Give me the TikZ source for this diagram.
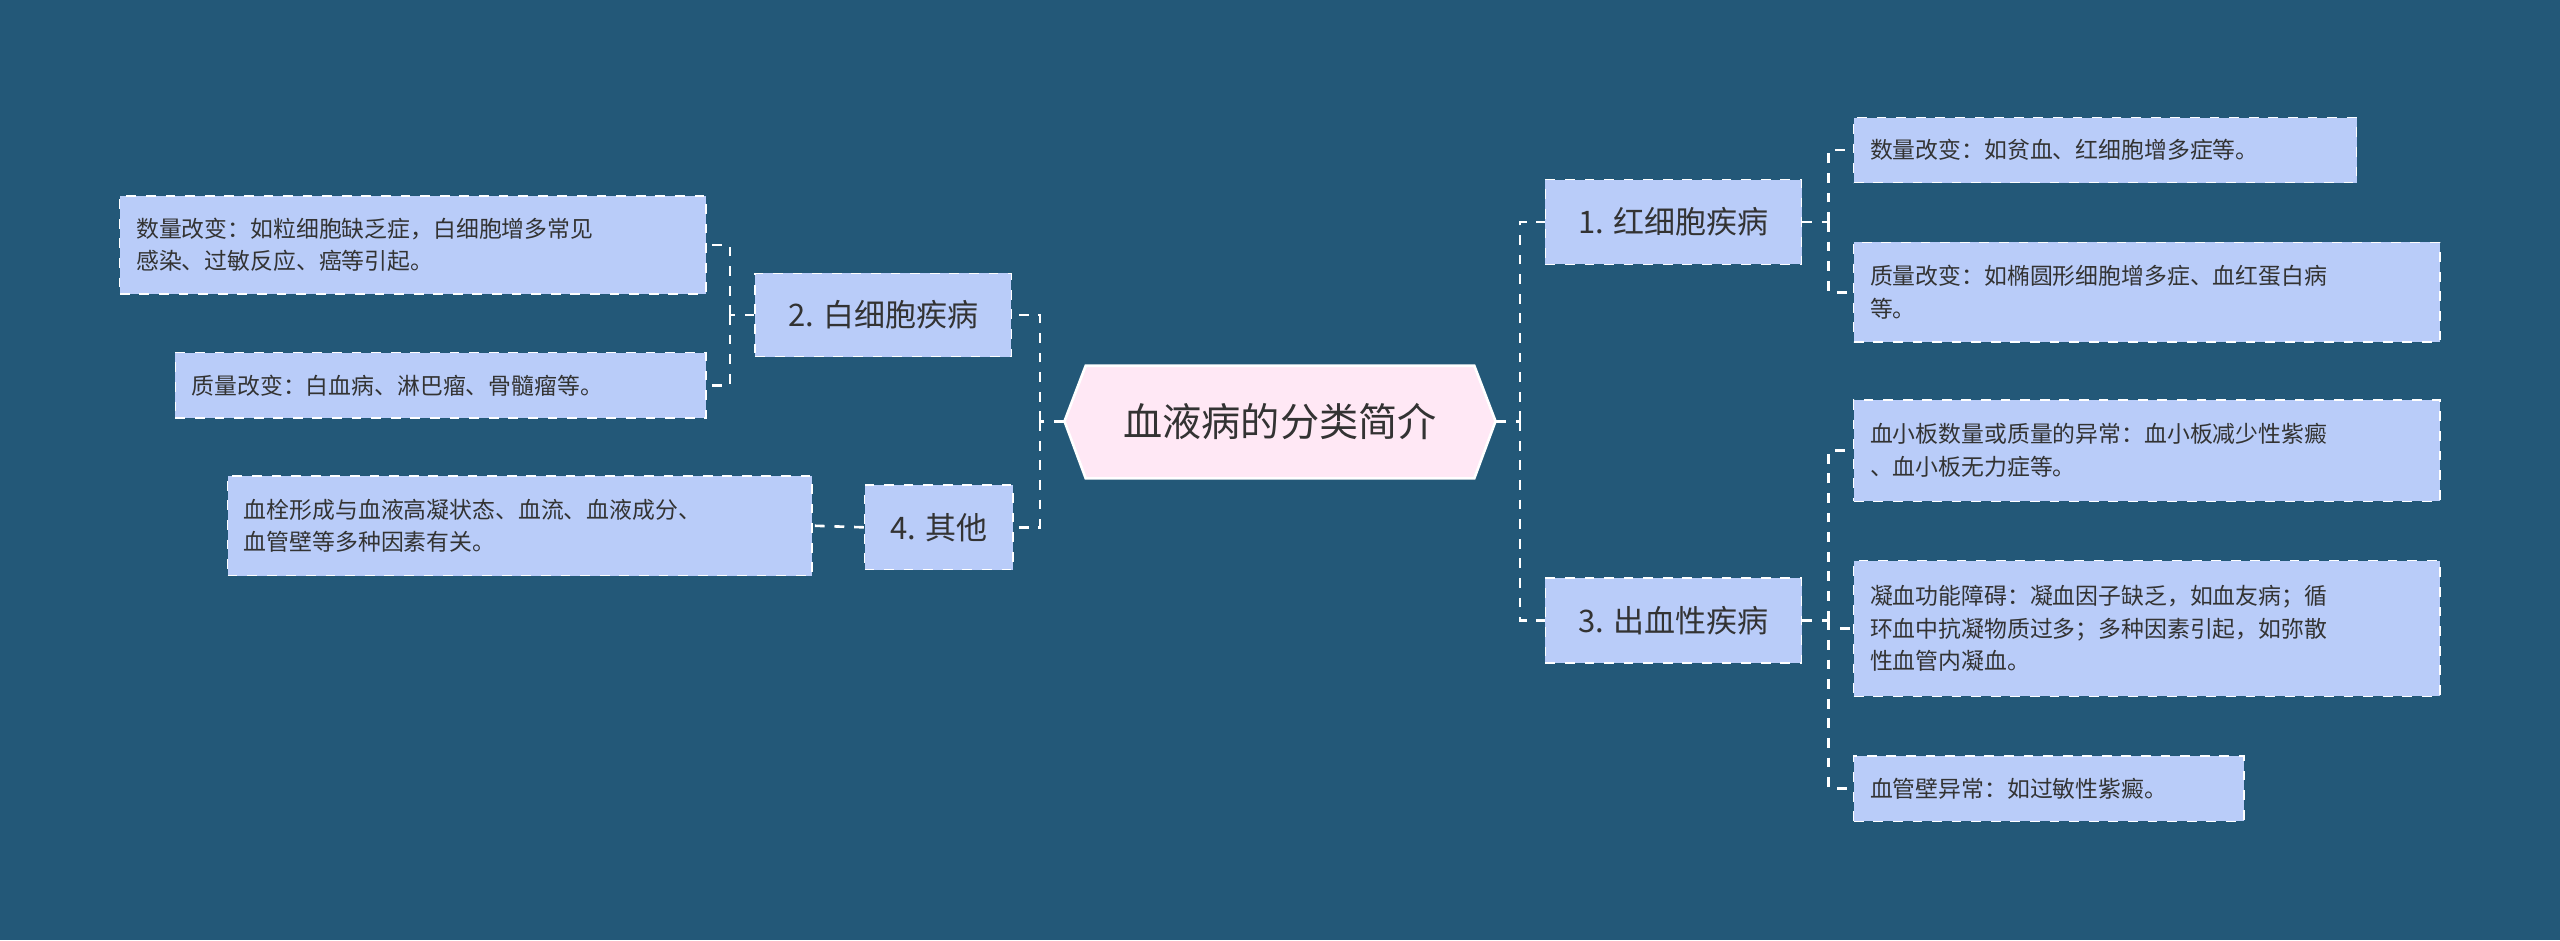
\documentclass[tikz,border=0pt]{standalone}
\usepackage{fontspec}
\setmainfont{Noto Sans CJK SC}
\begin{document}
\begin{tikzpicture}[x=0.5pt,y=-0.5pt,
  leaf/.style={draw=white,dashed,fill=leafc,text=txt,font=\fontsize{7}{10}\selectfont,align=left,anchor=west,inner ysep=0pt,inner xsep=5pt},
  lvl/.style={draw=white,dashed,fill=leafc,text=txt,font=\fontsize{9.5}{12}\selectfont,inner sep=0pt},
  con/.style={draw=white,dashed,line width=0.8pt}]
\definecolor{bg}{HTML}{235878}
\definecolor{leafc}{HTML}{B9CCF9}
\definecolor{cen}{HTML}{FFE8F5}
\definecolor{txt}{HTML}{333333}
\fill[bg] (0,0) rectangle (1568,576);
\useasboundingbox (0,0) rectangle (1568,576);
\fill[cen,draw=white,line width=0.8pt] (652,258)--(665,224)--(903,224)--(916,258)--(903,293)--(665,293)--cycle;
\node[minimum width=132pt,minimum height=34.5pt,inner sep=0pt,text=txt,font=\fontsize{12}{14}\selectfont] (c) at (784,258) {血液病的分类简介};
\node[lvl,minimum width=78.5pt,minimum height=26pt] (b1) at (1025,136) {1. 红细胞疾病};
\node[lvl,minimum width=78.5pt,minimum height=26pt] (b3) at (1025,380) {3. 出血性疾病};
\node[lvl,minimum width=78.5pt,minimum height=25.5pt] (b2) at (541,193) {2. 白细胞疾病};
\node[lvl,minimum width=45.5pt,minimum height=26pt] (b4) at (575,323) {4. 其他};
\node[leaf,minimum height=20pt,text width=144pt] (la) at (1135,92) {数量改变：如贫血、红细胞增多症等。};
\node[leaf,minimum height=30.5pt,text width=169.5pt] (lb) at (1135,179) {质量改变：如椭圆形细胞增多症、血红蛋白病\\等。};
\node[leaf,minimum height=31pt,text width=169.5pt] (lc) at (1135,276) {血小板数量或质量的异常：血小板减少性紫癜\\、血小板无力症等。};
\node[leaf,minimum height=41.5pt,text width=169.5pt] (ld) at (1135,385) {凝血功能障碍：凝血因子缺乏，如血友病；循\\环血中抗凝物质过多；多种因素引起，如弥散\\性血管内凝血。};
\node[leaf,minimum height=20pt,text width=109.5pt] (le) at (1135,483) {血管壁异常：如过敏性紫癜。};
\node[leaf,minimum height=30pt,text width=169.5pt] (lf) at (73,150) {数量改变：如粒细胞缺乏症，白细胞增多常见\\感染、过敏反应、癌等引起。};
\node[leaf,minimum height=20pt,text width=152.5pt] (lg) at (107,236) {质量改变：白血病、淋巴瘤、骨髓瘤等。};
\node[leaf,minimum height=30.5pt,text width=169pt] (lh) at (139,322) {血栓形成与血液高凝状态、血流、血液成分、\\血管壁等多种因素有关。};
\coordinate (jr) at (931,258); \coordinate (jl) at (637,258);
\coordinate (j1) at (1120,136); \coordinate (j3) at (1120,380);
\coordinate (j2) at (447,193);
\draw[con] (c.east)--(jr) (jr)|-(b1.west) (jr)|-(b3.west);
\draw[con] (c.west)--(jl) (jl)|-(b2.east) (jl)|-(b4.east);
\draw[con] (b1.east)--(j1) (j1)|-(la.west) (j1)|-(lb.west);
\draw[con] (b3.east)--(j3) (j3)|-(lc.west) (j3)|-(ld.west) (j3)|-(le.west);
\draw[con] (b2.west)--(j2) (j2)|-(lf.east) (j2)|-(lg.east);
\draw[con] (b4.west)--(lh.east);
\end{tikzpicture}
\end{document}
